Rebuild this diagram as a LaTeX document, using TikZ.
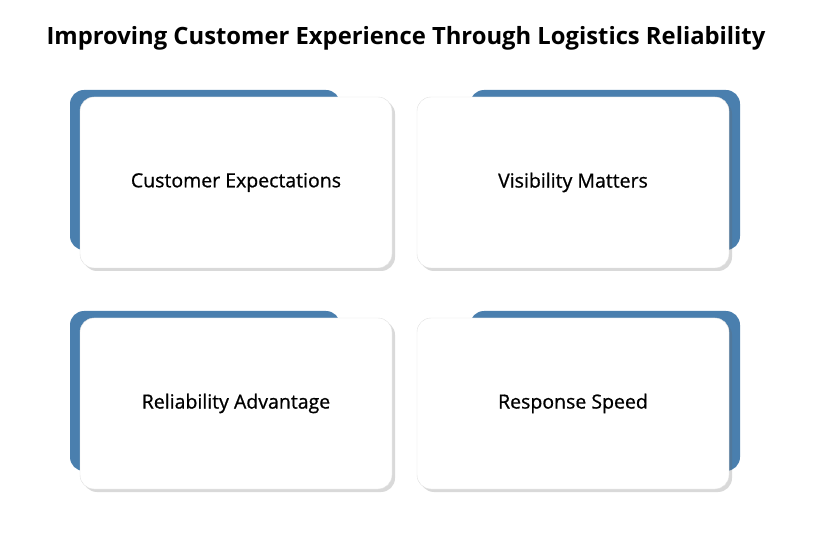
\documentclass[tikz,border=0pt]{standalone}
\usepackage{fontspec}
\setmainfont{Open Sans}
\newfontfamily\cardfont{Open Sans}[FakeBold=0.8]
\usetikzlibrary{positioning,shadows}
\definecolor{cardblue}{HTML}{4A7FAE}
\tikzset{
    back/.style={fill=cardblue, rounded corners=14pt, minimum width=270pt, minimum height=160pt, inner sep=0pt},
    card/.style={fill=white, draw=black!12, rounded corners=14pt, minimum width=312pt, minimum height=171pt,
        inner sep=0pt, font=\fontsize{19.5}{23}\selectfont\cardfont,
        drop shadow={shadow xshift=3pt, shadow yshift=-3pt, opacity=.25, fill=black!60}},
}
\begin{document}
\begin{tikzpicture}[x=1pt, y=-1pt]
	\useasboundingbox (0,0) rectangle (828,540);
	\node[font=\fontsize{23.8}{27}\selectfont\bfseries] (title) at (406,38) {Improving Customer Experience Through Logistics Reliability};
	% blue tabs behind the cards
	\node[back] (b1) at (205,170) {};
	\node[back] (b2) at (605,170) {};
	\node[back] (b3) at (205,391) {};
	\node[back] (b4) at (605,391) {};
	% cards
	\node[card] (c1) at (236,182.5) {Customer Expectations};
	\node[card] (c2) at (573,182.5) {Visibility Matters};
	\node[card] (c3) at (236,403.5) {Reliability Advantage};
	\node[card] (c4) at (573,403.5) {Response Speed};
\end{tikzpicture}
\end{document}
